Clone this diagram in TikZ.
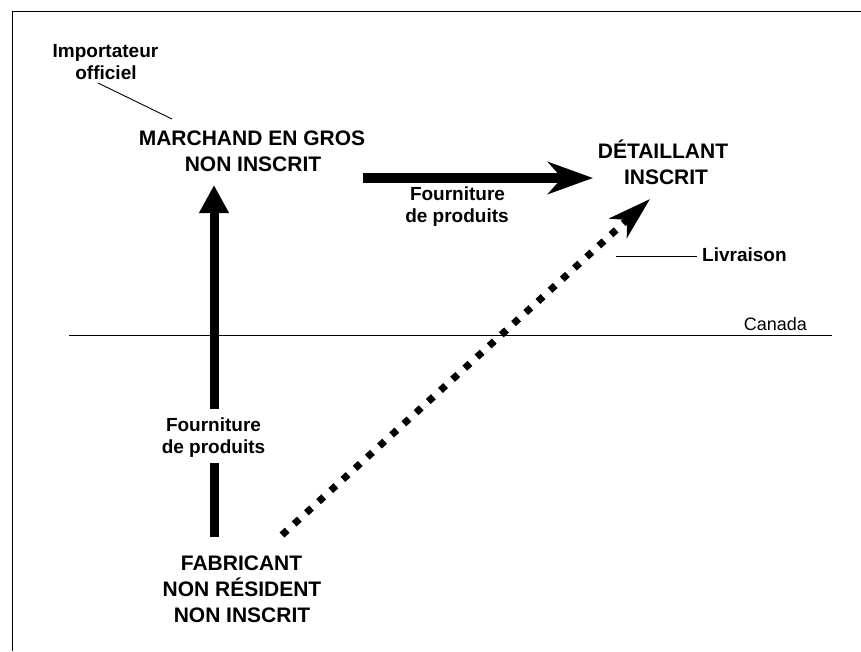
\documentclass[tikz,border=0pt]{standalone}
\usepackage{fontspec}
\setmainfont{Liberation Sans}
\usetikzlibrary{arrows.meta}
\begin{document}
\begin{tikzpicture}[x=1pt,y=-1pt,
  bigtxt/.style={font=\fontsize{21}{26}\selectfont\bfseries, anchor=base, inner sep=0pt},
  smalltxt/.style={font=\fontsize{19}{22}\selectfont\bfseries, anchor=base, inner sep=0pt},
  leader/.style={line width=0.9pt},
  thickarrow/.style={line width=10pt},
  dotarrow/.style={line width=7pt, dash pattern=on 7pt off 9.5pt, line cap=butt}]
\useasboundingbox (0,0) rectangle (861,651);
% frame
\draw[line width=1.8pt] (12.5,651) -- (12.5,11.5) -- (861,11.5);
% Canada line
\coordinate (cL) at (69,335.5);
\coordinate (cR) at (832,335.5);
\draw[line width=1.3pt] (cL) -- (cR);
\node[font=\fontsize{18}{20}\selectfont, anchor=base east, inner sep=0pt] (can) at (807,330) {Canada};
% texts
\node[smalltxt] (imp1) at (105.5,57) {Importateur};
\node[smalltxt] (imp2) at (106,79) {officiel};
\node[bigtxt] (mar1) at (252,145) {MARCHAND EN GROS};
\node[bigtxt] (mar2) at (253,171) {NON INSCRIT};
\node[bigtxt] (det1) at (663,158.5) {DÉTAILLANT};
\node[bigtxt] (det2) at (666,184.5) {INSCRIT};
\node[smalltxt] (hf1) at (457.5,200) {Fourniture};
\node[smalltxt] (hf2) at (457,222) {de produits};
\node[smalltxt] (vf1) at (213.5,431) {Fourniture};
\node[smalltxt] (vf2) at (213.5,453) {de produits};
\node[bigtxt] (fab1) at (241.5,570.5) {FABRICANT};
\node[bigtxt] (fab2) at (242,596.5) {NON RÉSIDENT};
\node[bigtxt] (fab3) at (242,622.5) {NON INSCRIT};
\node[smalltxt, anchor=base west] (liv) at (702,261) {Livraison};
% leaders
\coordinate (impA) at (98,83);
\coordinate (impB) at (172,119);
\draw[leader] (impA) -- (impB);
\coordinate (livA) at (616,256);
\coordinate (livB) at (697,256);
\draw[leader] (livA) -- (livB);
% vertical arrow
\coordinate (vA) at (214,537);
\coordinate (vB) at (214,463);
\coordinate (vC) at (214,409);
\coordinate (vD) at (214,185);
\draw[line width=9pt] (vA) -- (vB);
\draw[line width=9pt, -{Triangle[length=28pt,width=28pt]}] (vC) -- (vD);
% horizontal arrow
\coordinate (hA) at (363,178);
\coordinate (hB) at (593,178);
\draw[thickarrow, -{Stealth[length=45pt,width=32pt,inset=14pt]}] (hA) -- (hB);
% dotted arrow
\coordinate (dA) at (282,535);
\coordinate (dB) at (650,199);
\draw[dotarrow, -{Stealth[length=43pt,width=26pt,inset=12pt]}] (dA) -- (dB);
\end{tikzpicture}
\end{document}
